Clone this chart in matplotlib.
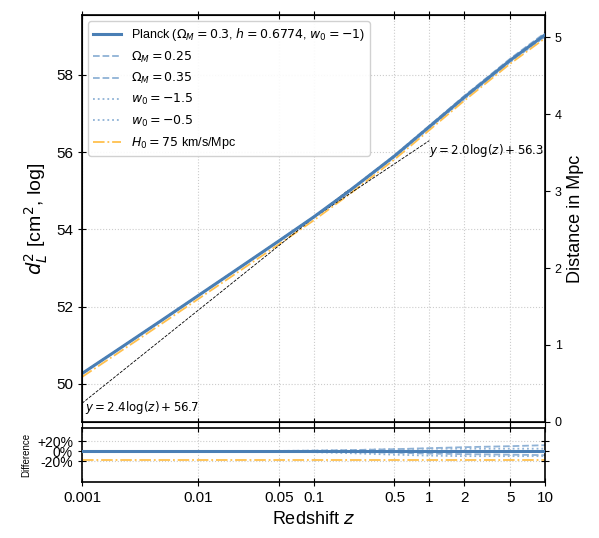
import numpy as np
import matplotlib
matplotlib.use("Agg")
import matplotlib.pyplot as plt

plt.rcParams['font.family'] = ['Liberation Sans', 'DejaVu Sans']

z = [0.001, 0.002, 0.005, 0.01, 0.02, 0.05, 0.1, 0.2, 0.5, 1, 2, 5, 10]
planck = [50.27, 50.87, 51.67, 52.28, 52.89, 53.70, 54.32, 54.98, 55.90, 56.66, 57.42, 58.38, 59.04]
# fractional differences of d_L^2 relative to Planck
diff_om25 = [0.0, 0.0, 0.0, 0.0, 0.0, 0.005, 0.01, 0.02, 0.04, 0.06, 0.08, 0.10, 0.12]
diff_om35 = [0.0, 0.0, 0.0, 0.0, 0.0, -0.005, -0.01, -0.02, -0.03, -0.05, -0.06, -0.07, -0.08]
diff_wm15 = [0.0, 0.0, 0.0, 0.0, 0.0, 0.005, 0.01, 0.02, 0.04, 0.05, 0.05, 0.05, 0.05]
diff_wm05 = [0.0, 0.0, 0.0, 0.0, 0.0, -0.01, -0.02, -0.04, -0.07, -0.09, -0.10, -0.10, -0.10]
diff_h75 = [-0.184] * 13

fit1 = (2.4, 56.7, 0.001, 0.2)
fit2 = (2.0, 56.3, 0.1, 1.0)
xticks = [0.001, 0.01, 0.05, 0.1, 0.5, 1, 2, 5, 10]
xticklabels = ['0.001', '0.01', '0.05', '0.1', '0.5', '1', '2', '5', '10']

zz = np.array(z)
P = np.array(planck)
def curve(d):
    return P + np.log10(1 + np.array(d))

cP = '#4a7fb5'
cV = '#8fb2d6'
cO = '#ffc04d'

fig = plt.figure(figsize=(5.99, 5.38), dpi=100)
ax = fig.add_axes([0.137, 0.216, 0.773, 0.756])
axd = fig.add_axes([0.137, 0.104, 0.773, 0.100], sharex=ax)

ax.plot(zz, P, color=cP, lw=2.2, label=r'Planck ($\Omega_M=0.3$, $h=0.6774$, $w_0=-1$)', zorder=5)
ax.plot(zz, curve(diff_om25), color=cV, ls='--', lw=1.3, label=r'$\Omega_M=0.25$')
ax.plot(zz, curve(diff_om35), color=cV, ls='--', lw=1.3, label=r'$\Omega_M=0.35$')
ax.plot(zz, curve(diff_wm15), color=cV, ls=':', lw=1.3, label=r'$w_0=-1.5$')
ax.plot(zz, curve(diff_wm05), color=cV, ls=':', lw=1.3, label=r'$w_0=-0.5$')
ax.plot(zz, curve(diff_h75), color=cO, ls='-.', lw=1.3, label=r'$H_0=75$ km/s/Mpc')

for a, b, z0, z1 in (fit1, fit2):
    xs = np.logspace(np.log10(z0), np.log10(z1), 50)
    ax.plot(xs, a * np.log10(xs) + b, 'k--', lw=0.6)
ax.text(0.00105, 49.3, r'$y=2.4\log(z)+56.7$', fontsize=8.5, family='DejaVu Sans')
ax.text(1.0, 55.95, r'$y=2.0\log(z)+56.3$', fontsize=8.5, family='DejaVu Sans')

ax.set_xscale('log')
ax.set_xlim(0.001, 10)
ax.set_ylim(49.02, 59.55)
ax.set_yticks([50, 52, 54, 56, 58])
ax.set_ylabel(r'$d_L^2$ [cm$^2$, log]', fontsize=14)
ax.grid(True, ls=':', color='#cccccc', lw=0.8)
ax.tick_params(labelsize=11, direction='inout', top=True, labelbottom=False, length=6)
ax.tick_params(axis='x', which='minor', bottom=False, top=False)
ax.legend(loc='upper left', fontsize=9, framealpha=0.9, handlelength=2.2)

ax2 = ax.twinx()
ax2.set_ylim(0, 5.29)
ax2.set_yticks([0, 1, 2, 3, 4, 5])
ax2.set_ylabel('Distance in Mpc', fontsize=13)
ax2.tick_params(labelsize=9)

axd.plot(zz, np.zeros(len(z)), color=cP, lw=2.2, zorder=5)
axd.plot(zz, diff_om25, color=cV, ls='--', lw=1.3)
axd.plot(zz, diff_om35, color=cV, ls='--', lw=1.3)
axd.plot(zz, diff_wm15, color=cV, ls=':', lw=1.3)
axd.plot(zz, diff_wm05, color=cV, ls=':', lw=1.3)
axd.plot(zz, diff_h75, color=cO, ls='-.', lw=1.3)
axd.set_ylim(-0.62, 0.46)
axd.set_yticks([0.2, 0, -0.2])
axd.set_yticklabels(['+20%', '0%', '-20%'])
axd.set_ylabel('Difference', fontsize=7)
axd.grid(True, ls=':', color='#cccccc', lw=0.8)
axd.tick_params(axis='y', labelsize=10, direction='inout', right=True, length=6)
axd.tick_params(axis='x', labelsize=11, direction='inout', top=True, length=6)
axd.tick_params(axis='x', which='minor', bottom=False, top=False)
axd.set_xticks(xticks)
axd.set_xticklabels(xticklabels)
axd.set_xlabel(r'Redshift $z$', fontsize=13)
for s in list(ax.spines.values()) + list(axd.spines.values()):
    s.set_linewidth(1.2)

fig.savefig('out.png', dpi=100)
